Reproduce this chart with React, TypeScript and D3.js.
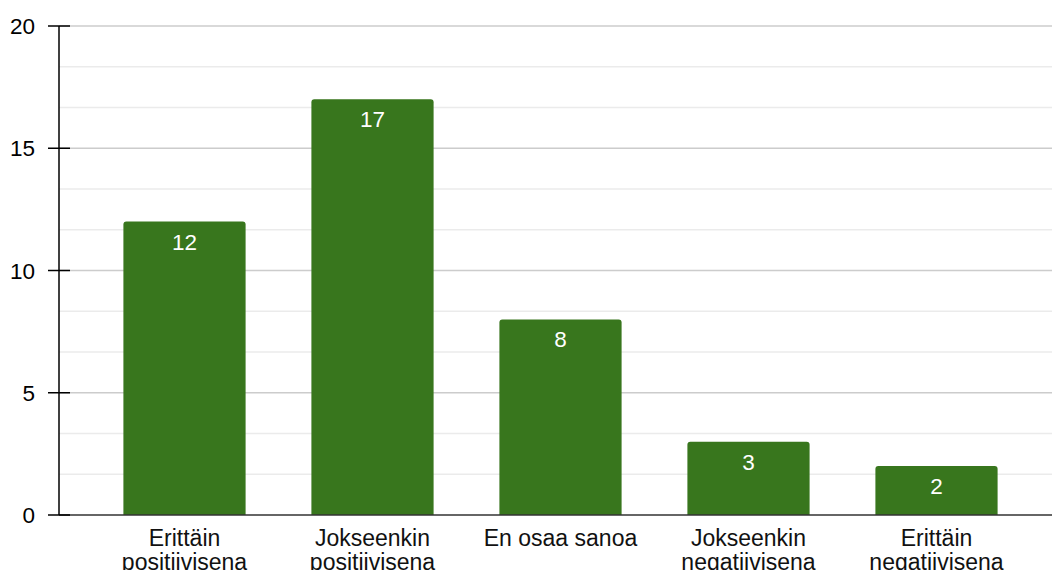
import React from "react";
import * as d3 from "d3";

const categories: string[][] = [
  ["Erittäin", "positiivisena"],
  ["Jokseenkin", "positiivisena"],
  ["En osaa sanoa"],
  ["Jokseenkin", "negatiivisena"],
  ["Erittäin", "negatiivisena"],
];
const values: number[] = [12, 17, 8, 3, 2];
const majorTicks: number[] = [0, 5, 10, 15, 20];

const W = 1052;
const H = 570;
const axisX = 59;
const yTop = 26;
const yBottom = 515;
const FONT = "Arial, 'Liberation Sans', Helvetica, sans-serif";

export default function App() {
  const y = d3.scaleLinear().domain([0, 20]).range([yBottom, yTop]);
  const keys = categories.map((c) => c.join(" "));
  const x = d3.scaleBand<string>().domain(keys).range([90.5, 1030.5]).paddingInner(0.35).paddingOuter(0.175);
  const minor = d3.range(0, 20.001, 5 / 3).filter((v) => !majorTicks.some((m) => Math.abs(m - v) < 1e-6));
  const bw = x.bandwidth();
  const r = 3;
  const barPath = (x0: number, y0: number, w: number, h: number) =>
    `M${x0},${y0 + h}V${y0 + r}Q${x0},${y0} ${x0 + r},${y0}H${x0 + w - r}Q${x0 + w},${y0} ${x0 + w},${y0 + r}V${y0 + h}Z`;

  return (
    <svg width={W} height={H} style={{ position: "absolute", left: 0, top: 0, background: "#fff" }} fontFamily={FONT}>
      {minor.map((v) => (
        <line key={"mi" + v} x1={axisX} x2={W} y1={y(v)} y2={y(v)} stroke="#ebebeb" strokeWidth={1.5} />
      ))}
      {majorTicks.filter((t) => t > 0).map((t) => (
        <line key={"ma" + t} x1={axisX} x2={W} y1={y(t)} y2={y(t)} stroke="#cccccc" strokeWidth={1.5} />
      ))}
      {values.map((v, i) => {
        const x0 = x(keys[i])!;
        const y0 = y(v);
        return (
          <g key={"b" + i}>
            <path d={barPath(x0, y0, bw, yBottom - y0)} fill="#38761d" />
            <text x={x0 + bw / 2} y={y0 + 28} fill="#fff" fontSize={22.5} textAnchor="middle">
              {v}
            </text>
          </g>
        );
      })}
      <line x1={axisX} x2={W} y1={yBottom} y2={yBottom} stroke="#333" strokeWidth={1.5} />
      <line x1={axisX} x2={axisX} y1={yTop} y2={yBottom} stroke="#000" strokeWidth={1.5} />
      {majorTicks.map((t) => (
        <g key={"t" + t}>
          <line x1={48} x2={70} y1={y(t)} y2={y(t)} stroke="#000" strokeWidth={1.5} />
          <text x={35} y={y(t) + 8} fontSize={22.5} textAnchor="end" fill="#000">
            {t}
          </text>
        </g>
      ))}
      {categories.map((lines, i) => (
        <text key={"c" + i} x={x(keys[i])! + bw / 2} textAnchor="middle" fontSize={23} fill="#111">
          {lines.map((l, j) => (
            <tspan key={j} x={x(keys[i])! + bw / 2} y={546 + j * 24}>
              {l}
            </tspan>
          ))}
        </text>
      ))}
    </svg>
  );
}
